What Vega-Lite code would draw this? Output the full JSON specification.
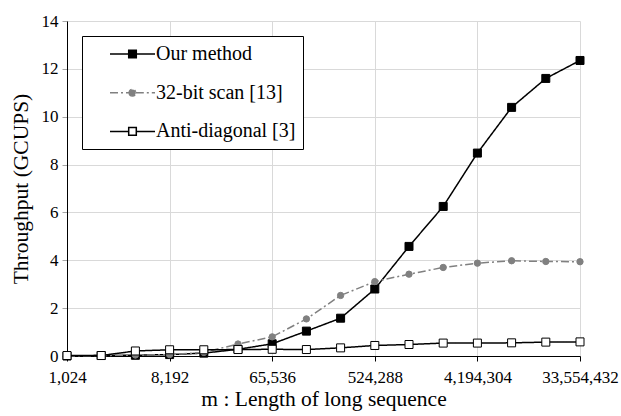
{
  "$schema": "https://vega.github.io/schema/vega-lite/v6.json",
  "width": 513,
  "height": 335,
  "autosize": {"type": "none"},
  "padding": {"left": 67, "top": 21, "right": 41, "bottom": 60},
  "background": "white",
  "config": {
    "font": "Liberation Serif",
    "view": {"stroke": null},
    "axis": {
      "labelFont": "Liberation Serif",
      "titleFont": "Liberation Serif",
      "labelColor": "#000",
      "titleColor": "#000",
      "titleFontWeight": "normal",
      "labelFontSize": 17,
      "gridColor": "#d9d9d9",
      "gridWidth": 1,
      "domainColor": "#000",
      "domainWidth": 1
    },
    "legend": {
      "labelFont": "Liberation Serif"
    }
  },
  "data": {
    "values": [
      {"series": "Our method", "m": 1024, "v": 0},
      {"series": "Our method", "m": 2048, "v": 0.02},
      {"series": "Our method", "m": 4096, "v": 0.03},
      {"series": "Our method", "m": 8192, "v": 0.06},
      {"series": "Our method", "m": 16384, "v": 0.12},
      {"series": "Our method", "m": 32768, "v": 0.28},
      {"series": "Our method", "m": 65536, "v": 0.51},
      {"series": "Our method", "m": 131072, "v": 1.04},
      {"series": "Our method", "m": 262144, "v": 1.58},
      {"series": "Our method", "m": 524288, "v": 2.8},
      {"series": "Our method", "m": 1048576, "v": 4.58},
      {"series": "Our method", "m": 2097152, "v": 6.25},
      {"series": "Our method", "m": 4194304, "v": 8.48},
      {"series": "Our method", "m": 8388608, "v": 10.39},
      {"series": "Our method", "m": 16777216, "v": 11.6},
      {"series": "Our method", "m": 33554432, "v": 12.35},
      {"series": "32-bit scan [13]", "m": 1024, "v": 0},
      {"series": "32-bit scan [13]", "m": 2048, "v": 0.02},
      {"series": "32-bit scan [13]", "m": 4096, "v": 0.04},
      {"series": "32-bit scan [13]", "m": 8192, "v": 0.06},
      {"series": "32-bit scan [13]", "m": 16384, "v": 0.15},
      {"series": "32-bit scan [13]", "m": 32768, "v": 0.5},
      {"series": "32-bit scan [13]", "m": 65536, "v": 0.8},
      {"series": "32-bit scan [13]", "m": 131072, "v": 1.55},
      {"series": "32-bit scan [13]", "m": 262144, "v": 2.53},
      {"series": "32-bit scan [13]", "m": 524288, "v": 3.11},
      {"series": "32-bit scan [13]", "m": 1048576, "v": 3.42},
      {"series": "32-bit scan [13]", "m": 2097152, "v": 3.7},
      {"series": "32-bit scan [13]", "m": 4194304, "v": 3.88},
      {"series": "32-bit scan [13]", "m": 8388608, "v": 3.98},
      {"series": "32-bit scan [13]", "m": 16777216, "v": 3.95},
      {"series": "32-bit scan [13]", "m": 33554432, "v": 3.94},
      {"series": "Anti-diagonal [3]", "m": 1024, "v": 0.02},
      {"series": "Anti-diagonal [3]", "m": 2048, "v": 0.02},
      {"series": "Anti-diagonal [3]", "m": 4096, "v": 0.21},
      {"series": "Anti-diagonal [3]", "m": 8192, "v": 0.26},
      {"series": "Anti-diagonal [3]", "m": 16384, "v": 0.26},
      {"series": "Anti-diagonal [3]", "m": 32768, "v": 0.27},
      {"series": "Anti-diagonal [3]", "m": 65536, "v": 0.28},
      {"series": "Anti-diagonal [3]", "m": 131072, "v": 0.27},
      {"series": "Anti-diagonal [3]", "m": 262144, "v": 0.34},
      {"series": "Anti-diagonal [3]", "m": 524288, "v": 0.44},
      {"series": "Anti-diagonal [3]", "m": 1048576, "v": 0.48},
      {"series": "Anti-diagonal [3]", "m": 2097152, "v": 0.54},
      {"series": "Anti-diagonal [3]", "m": 4194304, "v": 0.54},
      {"series": "Anti-diagonal [3]", "m": 8388608, "v": 0.55},
      {"series": "Anti-diagonal [3]", "m": 16777216, "v": 0.58},
      {"series": "Anti-diagonal [3]", "m": 33554432, "v": 0.59}
    ]
  },
  "encoding": {
    "x": {
      "field": "m",
      "type": "quantitative",
      "scale": {"type": "log", "base": 2, "domain": [1024, 33554432], "nice": false},
      "axis": {
        "values": [1024, 8192, 65536, 524288, 4194304, 33554432],
        "format": ",",
        "labelOverlap": false,
        "labelBound": false,
        "labelFlush": false,
        "tickColor": "#000",
        "tickSize": 5,
        "labelPadding": 8,
        "title": "m : Length of long sequence",
        "titleFontSize": 21.5,
        "titlePadding": 3
      }
    },
    "y": {
      "field": "v",
      "type": "quantitative",
      "scale": {"domain": [0, 14], "nice": false},
      "axis": {
        "values": [0, 2, 4, 6, 8, 10, 12, 14],
        "tickColor": "#a6a6a6",
        "tickSize": 5,
        "labelPadding": 4,
        "title": "Throughput (GCUPS)",
        "titleFontSize": 21.5,
        "titlePadding": 9
      }
    }
  },
  "layer": [
    {
      "mark": {"type": "line"},
      "encoding": {
        "color": {
          "field": "series",
          "type": "nominal",
          "sort": null,
          "scale": {"domain": ["Our method", "32-bit scan [13]", "Anti-diagonal [3]"], "range": ["#000000", "#808080", "#000000"]},
          "legend": {
            "title": null,
            "orient": "none",
            "legendX": 15,
            "legendY": 15,
            "direction": "vertical",
            "fillColor": "white",
            "strokeColor": "#000",
            "padding": 7,
            "cornerRadius": 0,
            "labelFontSize": 20,
            "labelColor": "#000",
            "labelLimit": 400,
            "symbolSize": 400,
            "symbolOffset": 32.5,
            "labelOffset": 12.5,
            "rowPadding": 17.7,
            "symbolStrokeWidth": 1.3,
            "encode": {
              "symbols": {
                "update": {
                  "shape": {"signal": "datum.value === '32-bit scan [13]' ? 'M-2.25,0L-0.33,0M0.33,0L2.25,0M-0.33,0A0.33,0.33,0,1,0,0.33,0A0.33,0.33,0,1,0,-0.33,0Z' : 'M-2.25,0L-0.38,0M0.38,0L2.25,0M-0.38,-0.38L0.38,-0.38L0.38,0.38L-0.38,0.38Z'"},
                  "fill": {"signal": "datum.value === 'Our method' ? '#000' : datum.value === '32-bit scan [13]' ? '#808080' : '#fff'"},
                  "stroke": {"signal": "datum.value === '32-bit scan [13]' ? '#808080' : '#000'"},
                  "strokeDash": {"signal": "datum.value === 'Our method' ? [3, 1.5] : datum.value === '32-bit scan [13]' ? [7, 3, 2, 3] : [1, 0]"},
                  "strokeWidth": {"value": 1.3},
                  "size": {"value": 400},
                  "opacity": {"value": 1},
                  "fillOpacity": {"value": 1},
                  "strokeOpacity": {"value": 1}
                }
              }
            }
          }
        },
        "strokeDash": {
          "field": "series",
          "type": "nominal",
          "scale": {"domain": ["Our method", "32-bit scan [13]", "Anti-diagonal [3]"], "range": [[1, 0], [8, 3, 2, 3], [1, 0]]},
          "legend": null
        },
        "strokeWidth": {
          "field": "series",
          "type": "nominal",
          "scale": {"domain": ["Our method", "32-bit scan [13]", "Anti-diagonal [3]"], "range": [1.5, 1.5, 1]},
          "legend": null
        }
      }
    },
    {
      "transform": [{"filter": "datum.series === 'Our method'"}],
      "mark": {"type": "point", "shape": "square", "filled": true, "fill": "#000", "stroke": "#000", "strokeWidth": 1, "size": 64, "opacity": 1}
    },
    {
      "transform": [{"filter": "datum.series === '32-bit scan [13]'"}],
      "mark": {"type": "point", "shape": "circle", "filled": true, "fill": "#808080", "stroke": "#808080", "strokeWidth": 1, "size": 40, "opacity": 1}
    },
    {
      "transform": [{"filter": "datum.series === 'Anti-diagonal [3]'"}],
      "mark": {"type": "point", "shape": "square", "fill": "#fff", "stroke": "#000", "strokeWidth": 1, "size": 64, "opacity": 1}
    }
  ]
}
